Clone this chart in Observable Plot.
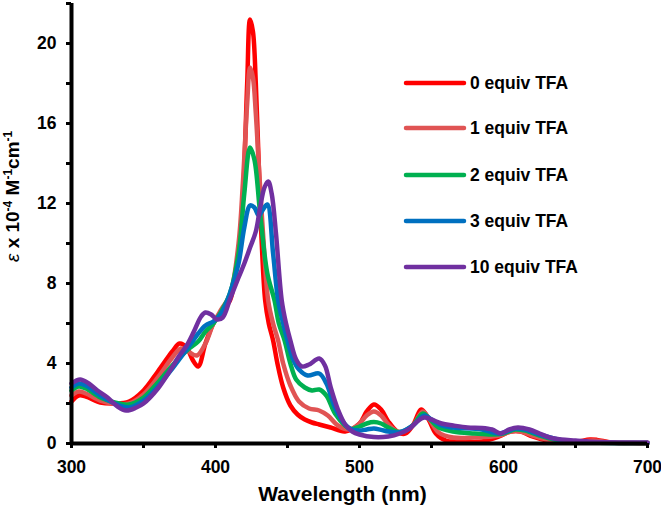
<!DOCTYPE html>
<html>
<head>
<meta charset="utf-8">
<script src="https://cdn.jsdelivr.net/npm/d3@7"></script>
<script src="https://cdn.jsdelivr.net/npm/@observablehq/plot@0.6"></script>
<style>
  html, body { margin: 0; padding: 0; background: #fff; }
  #chart svg { display: block; }
</style>
</head>
<body>
<div id="chart"></div>
<script>
// UV-vis absorption spectra during TFA titration (molar absorptivity, ×10^4 M^-1 cm^-1)

const seriesNames = ["0 equiv TFA", "1 equiv TFA", "2 equiv TFA", "3 equiv TFA", "10 equiv TFA"];
const seriesColors = ["#ff0000", "#e05454", "#00b050", "#0070c0", "#7030a0"];

const wl0  = [300,305,310,320,330,340,350,360,370,375,380,384,388,393,398.5,404,410,416,419,422,424,426,428,430,432,434.5,437,440,443,447,452,457,462,467,472,480,490,500,505,510,515,520,527,532,537,543,548,553,560,570,585,597,605,612,620,630,640,650,660,665,675,690,700];
const eps0 = [2.1,2.4,2.35,2.05,2.0,2.1,2.65,3.6,4.6,5.0,4.8,4.2,3.85,5.0,6.0,6.6,7.15,9.65,12.2,18.0,21.2,20.6,18.0,14.0,10.2,7.15,6.0,5.15,4.0,2.8,1.9,1.45,1.2,1.05,0.95,0.8,0.6,1.0,1.6,1.95,1.7,1.1,0.55,0.5,0.9,1.7,1.2,0.5,0.15,0.1,0.1,0.35,0.6,0.6,0.35,0.15,0.1,0.08,0.2,0.18,0.05,0.02,0.02];

const wl1  = [300,305,310,320,330,340,350,360,370,376,381,387,393,398.5,404,410,416,419,422,424,426,428,430,433,436.6,440,443.5,447,452,458,465,472,478,485,493,500,505,510,515,520,528,537,544,549,555,565,580,597,605,612,620,630,640,650,662,675,700];
const eps1 = [2.4,2.6,2.5,2.15,2.0,2.0,2.45,3.3,4.3,4.75,4.6,4.4,5.0,6.0,6.7,7.4,10.0,13.0,17.0,18.8,18.3,16.5,14.0,10.5,7.15,6.0,5.15,4.0,2.9,2.1,1.75,1.65,1.4,0.9,0.7,1.0,1.4,1.6,1.4,0.95,0.57,0.9,1.6,1.15,0.55,0.3,0.3,0.4,0.6,0.6,0.4,0.2,0.1,0.08,0.15,0.05,0.02];

const wl2  = [300,305,310,320,330,340,350,360,370,380,388,393,398.5,404,410,416,420,424,427,431,436,441,444,448,452,456,462,467,472,477,483,490,494,500,505,510,515,520,528,537,544,549,555,565,580,592,600,608,615,625,635,645,660,700];
const eps2 = [2.65,2.85,2.75,2.3,2.05,1.95,2.3,3.05,3.9,4.65,5.1,5.6,6.0,6.6,7.5,9.5,12.5,14.8,14.2,11.5,8.5,7.15,6.0,5.15,4.0,3.2,2.8,2.65,2.7,2.4,1.5,0.9,0.72,0.85,1.0,1.07,1.0,0.8,0.57,0.9,1.5,1.2,0.8,0.6,0.5,0.45,0.5,0.7,0.65,0.4,0.2,0.1,0.05,0.02];

const wl3  = [300,305,310,320,330,340,350,360,370,380,388,393,398.5,404,410,416,420,424,427,430,433,436,440,443.5,447,450,454,458,464,472,477,483,490,494,500,505,510,515,520,528,537,545,550,557,565,585,597,608,615,625,635,645,660,700];
const eps3 = [2.8,3.0,2.9,2.4,2.0,1.8,2.15,2.85,3.75,4.7,5.5,5.9,6.1,6.5,7.5,9.0,10.8,11.9,11.8,11.4,11.7,11.95,9.5,7.15,6.0,5.15,4.2,3.7,3.4,3.5,3.0,1.8,0.95,0.72,0.65,0.7,0.75,0.68,0.6,0.57,0.9,1.4,1.2,0.9,0.8,0.7,0.5,0.75,0.7,0.45,0.25,0.1,0.05,0.02];

const wl10  = [300,306,312,318,325,332,338,345,350,360,368,375,380,385,390,393,397,401,405,410,416,420,424,428,431,434,436.6,439,442,446,449,452,456,460,465,472,476,480,485,490,495,500,510,520,528,535,540,545,550,557,565,575,585,592,598,604,610,618,625,632,640,650,665,680,700];
const eps10 = [3.0,3.2,3.0,2.65,2.3,1.85,1.65,1.8,2.0,2.75,3.6,4.4,4.9,5.6,6.35,6.55,6.45,6.2,6.3,7.2,8.3,9.0,9.8,10.6,11.8,12.8,13.1,12.5,10.5,7.15,6.0,5.15,4.2,3.85,3.95,4.25,3.9,2.8,1.7,0.95,0.6,0.45,0.32,0.35,0.5,0.75,1.1,1.3,1.2,1.0,0.9,0.8,0.78,0.7,0.5,0.7,0.8,0.7,0.5,0.3,0.2,0.15,0.08,0.05,0.05];

const xTickLabels = [300, 400, 500, 600, 700];
const xTicksAll = [300, 350, 400, 450, 500, 550, 600, 650, 700];
const yTickLabels = [0, 4, 8, 12, 16, 20];
const yTicksMinor = [2, 6, 10, 14, 18, 22];

const wavelengths = [wl0, wl1, wl2, wl3, wl10];
const absorptivities = [eps0, eps1, eps2, eps3, eps10];

const rows = seriesNames.flatMap((name, i) =>
  wavelengths[i].map((w, j) => ({series: name, wl: w, eps: absorptivities[i][j]}))
);

const font = "'Liberation Sans', Arial, Helvetica, sans-serif";

const plot = Plot.plot({
  width: 661,
  height: 513,
  marginLeft: 71,
  marginRight: 14,
  marginTop: 3,
  marginBottom: 70,
  style: {fontFamily: font, fontWeight: "bold", color: "#000", background: "#fff"},
  x: {domain: [300, 700]},
  y: {domain: [0, 22]},
  color: {domain: seriesNames, range: seriesColors},
  marks: [
    // spectra
    ...seriesNames.map((name) =>
      Plot.line(rows.filter(d => d.series === name), {
        x: "wl", y: "eps", stroke: "series",
        strokeWidth: 4.5, curve: "catmull-rom",
        strokeLinejoin: "round", strokeLinecap: "round"
      })
    ),
    // tick marks
    Plot.axisX({ticks: xTicksAll, tickSize: 5, strokeWidth: 3, text: null, label: null, anchor: "bottom"}),
    Plot.axisY({ticks: yTickLabels.concat(yTicksMinor), tickSize: 5, strokeWidth: 3, text: null, label: null, anchor: "left"}),
    // tick labels
    Plot.axisX({ticks: xTickLabels, tickSize: 0, tickPadding: 17, fontSize: 17.5, fontWeight: "bold", label: null, anchor: "bottom"}),
    Plot.axisY({ticks: yTickLabels, tickSize: 0, tickPadding: 15, fontSize: 17.5, fontWeight: "bold", label: null, anchor: "left"}),
    // axis lines
    Plot.ruleY([0], {x1: 300, x2: 700, stroke: "#000", strokeWidth: 4}),
    Plot.ruleX([300], {y1: 0, y2: 22, stroke: "#000", strokeWidth: 4}),
    // x axis title
    Plot.text(["Wavelength (nm)"], {frameAnchor: "bottom", dx: -17, dy: 57, fontSize: 21, fontWeight: "bold", fill: "#000"})
  ]
});

document.getElementById("chart").appendChild(plot);

// y axis title with italic epsilon and superscripts
const svg = d3.select(plot);
const yTitle = svg.append("text")
  .attr("transform", "translate(18.5,262) rotate(-90)")
  .attr("text-anchor", "start")
  .attr("font-family", font)
  .attr("font-weight", "bold")
  .attr("font-size", 19)
  .attr("fill", "#000");
yTitle.append("tspan").attr("font-style", "italic").attr("font-weight", "normal").text("ε");
yTitle.append("tspan").text(" x 10");
yTitle.append("tspan").attr("font-size", 12).attr("dy", -7).text("-4");
yTitle.append("tspan").attr("dy", 7).text(" M");
yTitle.append("tspan").attr("font-size", 12).attr("dy", -7).text("-1");
yTitle.append("tspan").attr("dy", 7).text("cm");
yTitle.append("tspan").attr("font-size", 12).attr("dy", -7).text("-1");

// legend
const legendY = [83, 128, 175, 221, 267];
const legend = svg.append("g")
  .attr("font-family", font).attr("font-weight", "bold").attr("font-size", 17.5)
  .attr("text-anchor", "start");
seriesNames.forEach((name, i) => {
  legend.append("line")
    .attr("x1", 406).attr("x2", 464)
    .attr("y1", legendY[i]).attr("y2", legendY[i])
    .attr("stroke", seriesColors[i]).attr("stroke-width", 4.5).attr("stroke-linecap", "round");
  legend.append("text")
    .attr("x", 470).attr("y", legendY[i]).attr("dy", "0.36em")
    .attr("text-anchor", "start")
    .attr("fill", "#000").text(name);
});
</script>
</body>
</html>
